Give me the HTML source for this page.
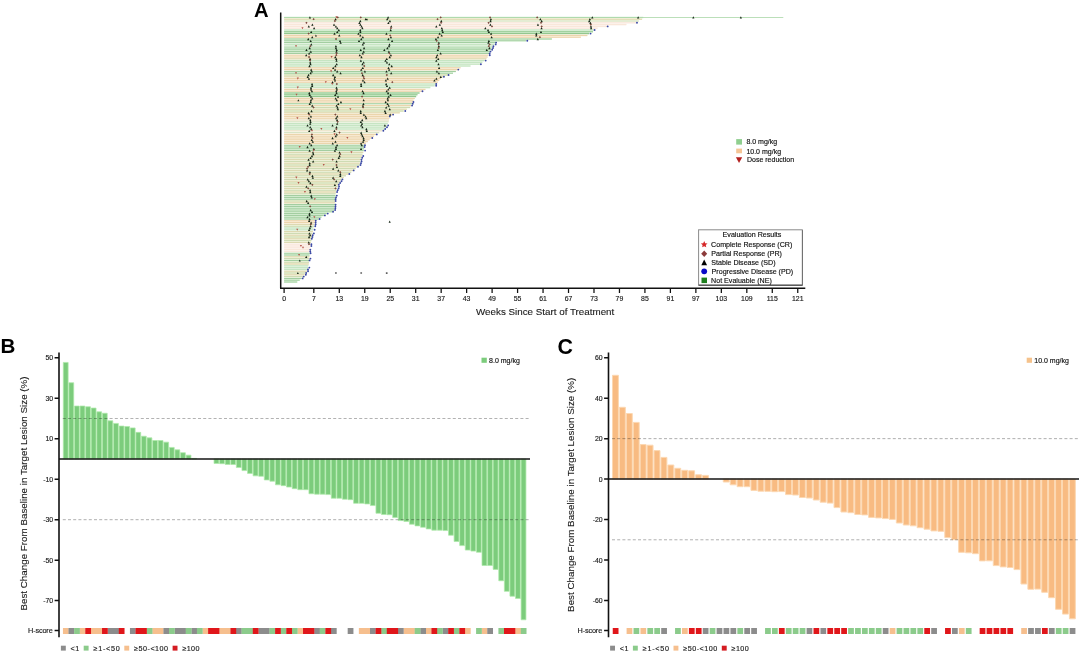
<!DOCTYPE html>
<html lang="en"><head><meta charset="utf-8"><title>Figure: treatment duration and best change in target lesion size</title>
<style>
html,body{margin:0;padding:0;background:#fff}
body{width:1080px;height:652px;overflow:hidden}
svg{display:block;font-family:"Liberation Sans",Arial,Helvetica,sans-serif}
</style></head><body>
<svg width="1080" height="652" viewBox="0 0 1080 652">
<rect width="1080" height="652" fill="#fff"/>
<g>
<path fill="#d0eacd" d="M284.1 16.8H643.3v1.5H284.1zM284.1 38.1H551.87v1.82H284.1zM284.1 39.9H526.15v1.82H284.1zM284.1 41.7H496.08v1.82H284.1zM284.1 47.1H491.7v1.82H284.1zM284.1 48.9H490.8v1.82H284.1zM284.1 50.7H489.91v1.82H284.1zM284.1 52.5H489.13v1.82H284.1zM284.1 70.5H455.84v1.82H284.1zM284.1 72.3H452.99v1.82H284.1zM284.1 102.9H412.08v1.82H284.1zM284.1 144.3H364.84v1.82H284.1zM284.1 146.1H364.48v1.82H284.1zM284.1 147.9H364.12v1.82H284.1zM284.1 149.7H363.76v1.82H284.1zM284.1 194.7H335.52v1.82H284.1zM284.1 196.5H335.45v1.82H284.1zM284.1 198.3H335.39v1.82H284.1zM284.1 203.7H334.91v1.82H284.1zM284.1 205.5H334.67v1.82H284.1zM284.1 207.3H334.43v1.82H284.1zM284.1 209.1H334.19v1.82H284.1zM284.1 210.9H332.68v1.82H284.1zM284.1 212.7H326.72v1.82H284.1zM284.1 214.5H323.86v1.82H284.1zM284.1 216.3H321.42v1.82H284.1zM284.1 218.1H318.68v1.82H284.1zM284.1 252.3H309.69v1.82H284.1zM284.1 254.1H309.56v1.82H284.1zM284.1 259.5H309.17v1.82H284.1zM284.1 277.5H301.48v1.82H284.1zM284.1 279.3H299.69v1.82H284.1zM284.1 281.1H297.25v1.82H284.1z"/>
<path fill="#eee8c8" d="M284.1 18.3H642.09v1.82H284.1zM284.1 57.9H486.43v1.82H284.1zM284.1 75.9H443.92v1.82H284.1zM284.1 108.3H406.88v1.82H284.1zM284.1 111.9H399.82v1.82H284.1zM284.1 151.5H363.22v1.82H284.1zM284.1 155.1H361.87v1.82H284.1zM284.1 158.7H360.69v1.82H284.1zM284.1 162.3H359.83v1.82H284.1zM284.1 165.9H357.48v1.82H284.1zM284.1 169.5H353.64v1.82H284.1zM284.1 173.1H348.62v1.82H284.1zM284.1 176.7H343.74v1.82H284.1zM284.1 180.3H340.2v1.82H284.1zM284.1 183.9H338.4v1.82H284.1zM284.1 187.5H337.02v1.82H284.1zM284.1 191.1H335.98v1.82H284.1zM284.1 201.9H335.15v1.82H284.1zM284.1 223.5H314.48v1.82H284.1zM284.1 230.7H312.88v1.82H284.1zM284.1 234.3H312.25v1.82H284.1zM284.1 237.9H311.64v1.82H284.1zM284.1 241.5H311.05v1.82H284.1zM284.1 255.9H309.43v1.82H284.1zM284.1 263.1H308.76v1.82H284.1zM284.1 270.3H306.88v1.82H284.1zM284.1 273.9H304.54v1.82H284.1z"/>
<path fill="#eaf1da" d="M284.1 20.1H638.87v1.82H284.1zM284.1 120.9H388.68v1.82H284.1zM284.1 131.7H379.21v1.82H284.1z"/>
<path fill="#fcf1ea" d="M284.1 21.9H636.27v1.82H284.1zM284.1 23.7H626.39v1.82H284.1zM284.1 25.5H607.5v1.82H284.1zM284.1 27.3H597.6v1.82H284.1zM284.1 243.3H310.76v1.82H284.1zM284.1 245.1H310.47v1.82H284.1zM284.1 246.9H310.18v1.82H284.1zM284.1 248.7H309.95v1.82H284.1zM284.1 250.5H309.82v1.82H284.1z"/>
<path fill="#ddf0da" d="M284.1 29.1H593.79v1.82H284.1zM284.1 43.5H494.23v1.82H284.1zM284.1 45.3H492.6v1.82H284.1zM284.1 59.7H484.37v1.82H284.1zM284.1 61.5H482.31v1.82H284.1zM284.1 63.3H480.26v1.82H284.1zM284.1 65.1H470.5v1.82H284.1zM284.1 83.1H436.17v1.82H284.1zM284.1 84.9H434.65v1.82H284.1zM284.1 86.7H430.33v1.82H284.1zM284.1 122.7H387.76v1.82H284.1zM284.1 124.5H386.68v1.82H284.1zM284.1 126.3H385.6v1.82H284.1zM284.1 128.1H384.52v1.82H284.1zM284.1 227.1H313.5v1.82H284.1zM284.1 228.9H313.19v1.82H284.1zM284.1 264.9H308.39v1.82H284.1zM284.1 266.7H308.03v1.82H284.1zM284.1 268.5H307.66v1.82H284.1z"/>
<path fill="#c2e4bf" d="M284.1 30.9H593.02v1.82H284.1zM284.1 32.7H589.1v1.82H284.1zM284.1 92.1H419.58v1.82H284.1zM284.1 93.9H417.5v1.82H284.1zM284.1 95.7H416.15v1.82H284.1z"/>
<path fill="#f7e8d0" d="M284.1 34.5H587.37v1.82H284.1zM284.1 36.3H580.87v1.82H284.1zM284.1 54.3H488.35v1.82H284.1zM284.1 56.1H487.57v1.82H284.1zM284.1 66.9H460.56v1.82H284.1zM284.1 68.7H458.2v1.82H284.1zM284.1 77.7H440.73v1.82H284.1zM284.1 79.5H439.21v1.82H284.1zM284.1 81.3H437.69v1.82H284.1zM284.1 88.5H425.44v1.82H284.1zM284.1 90.3H421.86v1.82H284.1zM284.1 97.5H414.8v1.82H284.1zM284.1 99.3H413.52v1.82H284.1zM284.1 101.1H412.8v1.82H284.1zM284.1 104.7H411.36v1.82H284.1zM284.1 113.7H392.75v1.82H284.1zM284.1 115.5H389.78v1.82H284.1zM284.1 117.3H389.41v1.82H284.1zM284.1 133.5H376.46v1.82H284.1zM284.1 135.3H374.07v1.82H284.1zM284.1 137.1H371.76v1.82H284.1zM284.1 138.9H369.68v1.82H284.1zM284.1 140.7H367.85v1.82H284.1zM284.1 142.5H366.02v1.82H284.1zM284.1 219.9H315.73v1.82H284.1zM284.1 221.7H314.97v1.82H284.1z"/>
<path fill="#e4ebcb" d="M284.1 74.1H448.46v1.82H284.1zM284.1 106.5H410.09v1.82H284.1zM284.1 110.1H403.67v1.82H284.1zM284.1 153.3H362.54v1.82H284.1zM284.1 156.9H361.19v1.82H284.1zM284.1 160.5H360.26v1.82H284.1zM284.1 164.1H359.4v1.82H284.1zM284.1 167.7H355.56v1.82H284.1zM284.1 171.3H351.25v1.82H284.1zM284.1 174.9H345.99v1.82H284.1zM284.1 178.5H341.54v1.82H284.1zM284.1 182.1H339.3v1.82H284.1zM284.1 185.7H337.54v1.82H284.1zM284.1 189.3H336.5v1.82H284.1zM284.1 192.9H335.58v1.82H284.1zM284.1 200.1H335.32v1.82H284.1zM284.1 225.3H313.99v1.82H284.1zM284.1 232.5H312.56v1.82H284.1zM284.1 236.1H311.94v1.82H284.1zM284.1 239.7H311.35v1.82H284.1zM284.1 257.7H309.3v1.82H284.1zM284.1 261.3H309.04v1.82H284.1zM284.1 272.1H305.8v1.82H284.1zM284.1 275.7H302.96v1.82H284.1z"/>
<path fill="#f5eedc" d="M284.1 119.1H389.05v1.82H284.1zM284.1 129.9H381.96v1.82H284.1z"/>
<path fill="#a5d5a2" d="M284.1 17H783.3v0.8H284.1z"/>
<path fill="#d8d4aa" d="M284.1 18.9H642.09v0.6H284.1zM284.1 58.5H486.43v0.6H284.1zM284.1 76.5H443.92v0.6H284.1zM284.1 108.9H406.88v0.6H284.1zM284.1 112.5H399.82v0.6H284.1zM284.1 152.1H363.22v0.6H284.1zM284.1 155.7H361.87v0.6H284.1zM284.1 159.3H360.69v0.6H284.1zM284.1 162.9H359.83v0.6H284.1zM284.1 166.5H357.48v0.6H284.1zM284.1 170.1H353.64v0.6H284.1zM284.1 173.7H348.62v0.6H284.1zM284.1 177.3H343.74v0.6H284.1zM284.1 180.9H340.2v0.6H284.1zM284.1 184.5H338.4v0.6H284.1zM284.1 188.1H337.02v0.6H284.1zM284.1 191.7H335.98v0.6H284.1zM284.1 202.5H335.15v0.6H284.1zM284.1 224.1H314.48v0.6H284.1zM284.1 231.3H312.88v0.6H284.1zM284.1 234.9H312.25v0.6H284.1zM284.1 238.5H311.64v0.6H284.1zM284.1 242.1H311.05v0.6H284.1zM284.1 256.5H309.43v0.6H284.1zM284.1 263.7H308.76v0.6H284.1zM284.1 270.9H306.88v0.6H284.1zM284.1 274.5H304.54v0.6H284.1z"/>
<path fill="#d2e0be" d="M284.1 20.7H638.87v0.6H284.1zM284.1 121.5H388.68v0.6H284.1zM284.1 132.3H379.21v0.6H284.1z"/>
<path fill="#f7e3d5" d="M284.1 22.5H636.27v0.6H284.1zM284.1 24.3H626.39v0.6H284.1zM284.1 26.1H607.5v0.6H284.1zM284.1 27.9H597.6v0.6H284.1zM284.1 243.9H310.76v0.6H284.1zM284.1 245.7H310.47v0.6H284.1zM284.1 247.5H310.18v0.6H284.1zM284.1 249.3H309.95v0.6H284.1zM284.1 251.1H309.82v0.6H284.1z"/>
<path fill="#bfe1bc" d="M284.1 29.7H593.79v0.6H284.1zM284.1 44.1H494.23v0.6H284.1zM284.1 45.9H492.6v0.6H284.1zM284.1 60.3H484.37v0.6H284.1zM284.1 62.1H482.31v0.6H284.1zM284.1 63.9H480.26v0.6H284.1zM284.1 65.7H470.5v0.6H284.1zM284.1 83.7H436.17v0.6H284.1zM284.1 85.5H434.65v0.6H284.1zM284.1 87.3H430.33v0.6H284.1zM284.1 123.3H387.76v0.6H284.1zM284.1 125.1H386.68v0.6H284.1zM284.1 126.9H385.6v0.6H284.1zM284.1 128.7H384.52v0.6H284.1zM284.1 227.7H313.5v0.6H284.1zM284.1 229.5H313.19v0.6H284.1zM284.1 265.5H308.39v0.6H284.1zM284.1 267.3H308.03v0.6H284.1zM284.1 269.1H307.66v0.6H284.1z"/>
<path fill="#82bd80" d="M284.1 31.5H593.02v0.6H284.1zM284.1 33.3H589.1v0.6H284.1zM284.1 92.7H419.58v0.6H284.1zM284.1 94.5H417.5v0.6H284.1zM284.1 96.3H416.15v0.6H284.1z"/>
<path fill="#e7cea0" d="M284.1 35.1H587.37v0.6H284.1zM284.1 36.9H580.87v0.6H284.1zM284.1 54.9H488.35v0.6H284.1zM284.1 56.7H487.57v0.6H284.1zM284.1 67.5H460.56v0.6H284.1zM284.1 69.3H458.2v0.6H284.1zM284.1 78.3H440.73v0.6H284.1zM284.1 80.1H439.21v0.6H284.1zM284.1 81.9H437.69v0.6H284.1zM284.1 89.1H425.44v0.6H284.1zM284.1 90.9H421.86v0.6H284.1zM284.1 98.1H414.8v0.6H284.1zM284.1 99.9H413.52v0.6H284.1zM284.1 101.7H412.8v0.6H284.1zM284.1 105.3H411.36v0.6H284.1zM284.1 114.3H392.75v0.6H284.1zM284.1 116.1H389.78v0.6H284.1zM284.1 117.9H389.41v0.6H284.1zM284.1 134.1H376.46v0.6H284.1zM284.1 135.9H374.07v0.6H284.1zM284.1 137.7H371.76v0.6H284.1zM284.1 139.5H369.68v0.6H284.1zM284.1 141.3H367.85v0.6H284.1zM284.1 143.1H366.02v0.6H284.1zM284.1 220.5H315.73v0.6H284.1zM284.1 222.3H314.97v0.6H284.1z"/>
<path fill="#94c592" d="M284.1 38.7H551.87v0.6H284.1zM284.1 40.5H526.15v0.6H284.1zM284.1 42.3H496.08v0.6H284.1zM284.1 47.7H491.7v0.6H284.1zM284.1 49.5H490.8v0.6H284.1zM284.1 51.3H489.91v0.6H284.1zM284.1 53.1H489.13v0.6H284.1zM284.1 71.1H455.84v0.6H284.1zM284.1 72.9H452.99v0.6H284.1zM284.1 103.5H412.08v0.6H284.1zM284.1 144.9H364.84v0.6H284.1zM284.1 146.7H364.48v0.6H284.1zM284.1 148.5H364.12v0.6H284.1zM284.1 150.3H363.76v0.6H284.1zM284.1 195.3H335.52v0.6H284.1zM284.1 197.1H335.45v0.6H284.1zM284.1 198.9H335.39v0.6H284.1zM284.1 204.3H334.91v0.6H284.1zM284.1 206.1H334.67v0.6H284.1zM284.1 207.9H334.43v0.6H284.1zM284.1 209.7H334.19v0.6H284.1zM284.1 211.5H332.68v0.6H284.1zM284.1 213.3H326.72v0.6H284.1zM284.1 215.1H323.86v0.6H284.1zM284.1 216.9H321.42v0.6H284.1zM284.1 218.7H318.68v0.6H284.1zM284.1 252.9H309.69v0.6H284.1zM284.1 254.7H309.56v0.6H284.1zM284.1 260.1H309.17v0.6H284.1zM284.1 278.1H301.48v0.6H284.1zM284.1 279.9H299.69v0.6H284.1zM284.1 281.7H297.25v0.6H284.1z"/>
<path fill="#c6d6ac" d="M284.1 74.7H448.46v0.6H284.1zM284.1 107.1H410.09v0.6H284.1zM284.1 110.7H403.67v0.6H284.1zM284.1 153.9H362.54v0.6H284.1zM284.1 157.5H361.19v0.6H284.1zM284.1 161.1H360.26v0.6H284.1zM284.1 164.7H359.4v0.6H284.1zM284.1 168.3H355.56v0.6H284.1zM284.1 171.9H351.25v0.6H284.1zM284.1 175.5H345.99v0.6H284.1zM284.1 179.1H341.54v0.6H284.1zM284.1 182.7H339.3v0.6H284.1zM284.1 186.3H337.54v0.6H284.1zM284.1 189.9H336.5v0.6H284.1zM284.1 193.5H335.58v0.6H284.1zM284.1 200.7H335.32v0.6H284.1zM284.1 225.9H313.99v0.6H284.1zM284.1 233.1H312.56v0.6H284.1zM284.1 236.7H311.94v0.6H284.1zM284.1 240.3H311.35v0.6H284.1zM284.1 258.3H309.3v0.6H284.1zM284.1 261.9H309.04v0.6H284.1zM284.1 272.7H305.8v0.6H284.1zM284.1 276.3H302.96v0.6H284.1z"/>
<path fill="#e8e0c2" d="M284.1 119.7H389.05v0.6H284.1zM284.1 130.5H381.96v0.6H284.1z"/>
</g>
<path fill="#5f5f5f" d="M335.05 272.15h1.7v1.7h-1.7zM360.35 272.15h1.7v1.7h-1.7zM385.85 272.25h1.7v1.7h-1.7z"/>
<path fill="#162616" d="M309.91 16.25l1.15 2.3h-2.3zM388.1 16.25l1.15 2.3h-2.3zM592.3 16.25l1.15 2.3h-2.3zM638.15 16.25l1.15 2.3h-2.3zM693.32 16.3l1.1 2.2h-2.2zM740.86 16.3l1.1 2.2h-2.2zM335.62 18.05l1.15 2.3h-2.3zM365.7 18.05l1.15 2.3h-2.3zM387.2 18.05l1.15 2.3h-2.3zM490.92 18.05l1.15 2.3h-2.3zM540.33 18.05l1.15 2.3h-2.3zM589.89 18.05l1.15 2.3h-2.3zM366.96 18.2l1 2h-2zM360.32 19.85l1.15 2.3h-2.3zM389.92 19.85l1.15 2.3h-2.3zM441.29 19.85l1.15 2.3h-2.3zM490.56 19.85l1.15 2.3h-2.3zM541.69 19.85l1.15 2.3h-2.3zM589.23 19.85l1.15 2.3h-2.3zM359.42 21.65l1.15 2.3h-2.3zM388.38 21.65l1.15 2.3h-2.3zM590.44 21.65l1.15 2.3h-2.3zM312.37 23.45l1.15 2.3h-2.3zM334.02 23.45l1.15 2.3h-2.3zM360.36 23.45l1.15 2.3h-2.3zM439.84 23.45l1.15 2.3h-2.3zM490.37 23.45l1.15 2.3h-2.3zM537.95 23.45l1.15 2.3h-2.3zM308.81 25.25l1.15 2.3h-2.3zM335.9 25.25l1.15 2.3h-2.3zM361.58 25.25l1.15 2.3h-2.3zM391.23 25.25l1.15 2.3h-2.3zM436.33 25.25l1.15 2.3h-2.3zM590.94 25.25l1.15 2.3h-2.3zM314.12 27.05l1.15 2.3h-2.3zM337.22 27.05l1.15 2.3h-2.3zM362.4 27.05l1.15 2.3h-2.3zM441.83 27.05l1.15 2.3h-2.3zM485.36 27.05l1.15 2.3h-2.3zM541.54 27.05l1.15 2.3h-2.3zM591.14 27.05l1.15 2.3h-2.3zM338.85 28.85l1.15 2.3h-2.3zM360.25 28.85l1.15 2.3h-2.3zM390.72 28.85l1.15 2.3h-2.3zM442.24 28.85l1.15 2.3h-2.3zM488.04 28.85l1.15 2.3h-2.3zM311.18 30.65l1.15 2.3h-2.3zM337.25 30.65l1.15 2.3h-2.3zM360.39 30.65l1.15 2.3h-2.3zM442.82 30.65l1.15 2.3h-2.3zM488.88 30.65l1.15 2.3h-2.3zM540.98 30.65l1.15 2.3h-2.3zM334.5 32.45l1.15 2.3h-2.3zM358.47 32.45l1.15 2.3h-2.3zM386.44 32.45l1.15 2.3h-2.3zM439.63 32.45l1.15 2.3h-2.3zM491.1 32.45l1.15 2.3h-2.3zM536.3 32.45l1.15 2.3h-2.3zM339.27 34.25l1.15 2.3h-2.3zM360.31 34.25l1.15 2.3h-2.3zM441.67 34.25l1.15 2.3h-2.3zM536.3 34.25l1.15 2.3h-2.3zM315.93 34.4l1 2h-2zM312.23 36.05l1.15 2.3h-2.3zM362.86 36.05l1.15 2.3h-2.3zM390.9 36.05l1.15 2.3h-2.3zM438.06 36.05l1.15 2.3h-2.3zM491.65 36.05l1.15 2.3h-2.3zM308.25 37.85l1.15 2.3h-2.3zM361.27 37.85l1.15 2.3h-2.3zM388.44 37.85l1.15 2.3h-2.3zM435.94 37.85l1.15 2.3h-2.3zM537.8 37.85l1.15 2.3h-2.3zM310.71 39.65l1.15 2.3h-2.3zM340.01 39.65l1.15 2.3h-2.3zM359.02 39.65l1.15 2.3h-2.3zM392.1 39.65l1.15 2.3h-2.3zM488.89 39.65l1.15 2.3h-2.3zM340.63 41.45l1.15 2.3h-2.3zM363.84 41.45l1.15 2.3h-2.3zM438.83 41.45l1.15 2.3h-2.3zM488.39 41.45l1.15 2.3h-2.3zM311.26 43.25l1.15 2.3h-2.3zM362.82 43.25l1.15 2.3h-2.3zM389.48 43.25l1.15 2.3h-2.3zM335.92 45.05l1.15 2.3h-2.3zM389.07 45.05l1.15 2.3h-2.3zM438.86 45.05l1.15 2.3h-2.3zM309.7 46.85l1.15 2.3h-2.3zM335.93 46.85l1.15 2.3h-2.3zM364.08 46.85l1.15 2.3h-2.3zM387.38 46.85l1.15 2.3h-2.3zM489.4 46.85l1.15 2.3h-2.3zM306.48 48.65l1.15 2.3h-2.3zM336.7 48.65l1.15 2.3h-2.3zM360.75 48.65l1.15 2.3h-2.3zM384.33 48.65l1.15 2.3h-2.3zM437.86 48.65l1.15 2.3h-2.3zM486.79 48.65l1.15 2.3h-2.3zM310.83 50.45l1.15 2.3h-2.3zM336.43 50.45l1.15 2.3h-2.3zM363.72 50.45l1.15 2.3h-2.3zM388.88 50.45l1.15 2.3h-2.3zM309.16 52.25l1.15 2.3h-2.3zM362.77 52.25l1.15 2.3h-2.3zM440.64 52.25l1.15 2.3h-2.3zM306.22 54.05l1.15 2.3h-2.3zM359.83 54.05l1.15 2.3h-2.3zM390.9 54.05l1.15 2.3h-2.3zM437.26 54.05l1.15 2.3h-2.3zM335.29 55.85l1.15 2.3h-2.3zM361.47 55.85l1.15 2.3h-2.3zM389.72 55.85l1.15 2.3h-2.3zM436.4 55.85l1.15 2.3h-2.3zM310.1 57.65l1.15 2.3h-2.3zM336.27 57.65l1.15 2.3h-2.3zM386.8 57.65l1.15 2.3h-2.3zM438.25 57.65l1.15 2.3h-2.3zM336.51 59.45l1.15 2.3h-2.3zM360.87 59.45l1.15 2.3h-2.3zM385.47 59.45l1.15 2.3h-2.3zM436.32 59.45l1.15 2.3h-2.3zM310.2 61.25l1.15 2.3h-2.3zM363.64 61.25l1.15 2.3h-2.3zM386.95 61.25l1.15 2.3h-2.3zM310.54 63.05l1.15 2.3h-2.3zM336.72 63.05l1.15 2.3h-2.3zM362.48 63.05l1.15 2.3h-2.3zM389.26 63.05l1.15 2.3h-2.3zM438.48 63.05l1.15 2.3h-2.3zM309.48 64.85l1.15 2.3h-2.3zM335.38 64.85l1.15 2.3h-2.3zM391.72 64.85l1.15 2.3h-2.3zM333.22 66.65l1.15 2.3h-2.3zM362.83 66.65l1.15 2.3h-2.3zM388.54 66.65l1.15 2.3h-2.3zM439.11 66.65l1.15 2.3h-2.3zM311.18 68.45l1.15 2.3h-2.3zM335.09 68.45l1.15 2.3h-2.3zM361.27 68.45l1.15 2.3h-2.3zM389.12 68.45l1.15 2.3h-2.3zM311.81 70.25l1.15 2.3h-2.3zM337.21 70.25l1.15 2.3h-2.3zM364.89 70.25l1.15 2.3h-2.3zM386.48 70.25l1.15 2.3h-2.3zM436.92 70.25l1.15 2.3h-2.3zM310.64 72.05l1.15 2.3h-2.3zM340.56 72.05l1.15 2.3h-2.3zM391.2 72.05l1.15 2.3h-2.3zM438.91 72.05l1.15 2.3h-2.3zM308.49 73.85l1.15 2.3h-2.3zM333.16 73.85l1.15 2.3h-2.3zM362.71 73.85l1.15 2.3h-2.3zM307.69 75.65l1.15 2.3h-2.3zM334.94 75.65l1.15 2.3h-2.3zM440.8 75.65l1.15 2.3h-2.3zM308.92 77.45l1.15 2.3h-2.3zM334.52 77.45l1.15 2.3h-2.3zM387.67 77.45l1.15 2.3h-2.3zM436.39 77.45l1.15 2.3h-2.3zM335.01 79.25l1.15 2.3h-2.3zM362.96 79.25l1.15 2.3h-2.3zM385.88 79.25l1.15 2.3h-2.3zM434.42 79.25l1.15 2.3h-2.3zM332.54 81.05l1.15 2.3h-2.3zM364.55 81.05l1.15 2.3h-2.3zM312.07 82.85l1.15 2.3h-2.3zM361.1 82.85l1.15 2.3h-2.3zM386.15 82.85l1.15 2.3h-2.3zM312.21 84.65l1.15 2.3h-2.3zM361.17 84.65l1.15 2.3h-2.3zM387.01 84.65l1.15 2.3h-2.3zM311 86.45l1.15 2.3h-2.3zM336.51 86.45l1.15 2.3h-2.3zM389.7 86.45l1.15 2.3h-2.3zM311.02 88.25l1.15 2.3h-2.3zM336.9 88.25l1.15 2.3h-2.3zM388.25 88.25l1.15 2.3h-2.3zM311.93 90.05l1.15 2.3h-2.3zM336.25 90.05l1.15 2.3h-2.3zM362.6 90.05l1.15 2.3h-2.3zM386.71 90.05l1.15 2.3h-2.3zM309.27 91.85l1.15 2.3h-2.3zM336.57 91.85l1.15 2.3h-2.3zM363.55 91.85l1.15 2.3h-2.3zM388.11 91.85l1.15 2.3h-2.3zM309.74 93.65l1.15 2.3h-2.3zM335.23 93.65l1.15 2.3h-2.3zM390.56 93.65l1.15 2.3h-2.3zM310.97 95.45l1.15 2.3h-2.3zM338.03 95.45l1.15 2.3h-2.3zM388.72 95.45l1.15 2.3h-2.3zM312.21 97.25l1.15 2.3h-2.3zM335.7 97.25l1.15 2.3h-2.3zM387.7 97.25l1.15 2.3h-2.3zM310.96 99.05l1.15 2.3h-2.3zM336.83 99.05l1.15 2.3h-2.3zM363.66 99.05l1.15 2.3h-2.3zM387.9 99.05l1.15 2.3h-2.3zM298.36 99.2l1 2h-2zM310.74 100.85l1.15 2.3h-2.3zM340.94 100.85l1.15 2.3h-2.3zM385.69 100.85l1.15 2.3h-2.3zM309.72 102.65l1.15 2.3h-2.3zM338.26 102.65l1.15 2.3h-2.3zM363.44 102.65l1.15 2.3h-2.3zM387.61 102.65l1.15 2.3h-2.3zM312.24 104.45l1.15 2.3h-2.3zM336.64 104.45l1.15 2.3h-2.3zM362.96 104.45l1.15 2.3h-2.3zM388.66 104.45l1.15 2.3h-2.3zM337.44 106.25l1.15 2.3h-2.3zM386.2 106.25l1.15 2.3h-2.3zM337.92 108.05l1.15 2.3h-2.3zM389.76 108.05l1.15 2.3h-2.3zM311.54 109.85l1.15 2.3h-2.3zM360.71 109.85l1.15 2.3h-2.3zM384.93 109.85l1.15 2.3h-2.3zM308.65 111.65l1.15 2.3h-2.3zM360.75 111.65l1.15 2.3h-2.3zM385.64 111.65l1.15 2.3h-2.3zM363.89 113.45l1.15 2.3h-2.3zM390.18 113.45l1.15 2.3h-2.3zM310.92 115.25l1.15 2.3h-2.3zM337.26 115.25l1.15 2.3h-2.3zM365.57 115.25l1.15 2.3h-2.3zM308.8 117.05l1.15 2.3h-2.3zM336.13 117.05l1.15 2.3h-2.3zM366.22 117.05l1.15 2.3h-2.3zM310.29 118.85l1.15 2.3h-2.3zM337.1 118.85l1.15 2.3h-2.3zM362.21 118.85l1.15 2.3h-2.3zM310.54 120.65l1.15 2.3h-2.3zM360.84 120.65l1.15 2.3h-2.3zM310.21 122.45l1.15 2.3h-2.3zM337.19 122.45l1.15 2.3h-2.3zM362.04 122.45l1.15 2.3h-2.3zM307.55 124.25l1.15 2.3h-2.3zM332.54 124.25l1.15 2.3h-2.3zM361.24 124.25l1.15 2.3h-2.3zM384.9 124.25l1.15 2.3h-2.3zM310.21 126.05l1.15 2.3h-2.3zM336.47 126.05l1.15 2.3h-2.3zM362.46 126.05l1.15 2.3h-2.3zM311.27 127.85l1.15 2.3h-2.3zM366.39 127.85l1.15 2.3h-2.3zM309.24 129.65l1.15 2.3h-2.3zM334.44 129.65l1.15 2.3h-2.3zM366.83 129.65l1.15 2.3h-2.3zM361.15 131.45l1.15 2.3h-2.3zM336.76 133.25l1.15 2.3h-2.3zM361.71 133.25l1.15 2.3h-2.3zM311.81 135.05l1.15 2.3h-2.3zM335.77 135.05l1.15 2.3h-2.3zM362.54 135.05l1.15 2.3h-2.3zM332.54 136.85l1.15 2.3h-2.3zM363.6 136.85l1.15 2.3h-2.3zM311.75 138.65l1.15 2.3h-2.3zM363.73 138.65l1.15 2.3h-2.3zM312.78 140.45l1.15 2.3h-2.3zM335.45 140.45l1.15 2.3h-2.3zM363.11 140.45l1.15 2.3h-2.3zM309.68 142.25l1.15 2.3h-2.3zM332.76 142.25l1.15 2.3h-2.3zM361.07 142.25l1.15 2.3h-2.3zM311.29 144.05l1.15 2.3h-2.3zM337.09 144.05l1.15 2.3h-2.3zM361.78 144.05l1.15 2.3h-2.3zM307.52 145.85l1.15 2.3h-2.3zM336 145.85l1.15 2.3h-2.3zM313.85 147.65l1.15 2.3h-2.3zM335.99 147.65l1.15 2.3h-2.3zM361.06 147.65l1.15 2.3h-2.3zM309.61 149.45l1.15 2.3h-2.3zM334.91 149.45l1.15 2.3h-2.3zM312.94 151.25l1.15 2.3h-2.3zM339.57 151.25l1.15 2.3h-2.3zM313.32 153.05l1.15 2.3h-2.3zM311.95 154.85l1.15 2.3h-2.3zM339.56 154.85l1.15 2.3h-2.3zM310.59 156.65l1.15 2.3h-2.3zM338.76 156.65l1.15 2.3h-2.3zM308.56 158.45l1.15 2.3h-2.3zM313.16 160.25l1.15 2.3h-2.3zM336.6 160.25l1.15 2.3h-2.3zM309.72 162.05l1.15 2.3h-2.3zM309.67 163.85l1.15 2.3h-2.3zM336.92 165.65l1.15 2.3h-2.3zM333.15 167.45l1.15 2.3h-2.3zM307.16 169.25l1.15 2.3h-2.3zM338.33 169.25l1.15 2.3h-2.3zM309.93 171.05l1.15 2.3h-2.3zM340.34 172.85l1.15 2.3h-2.3zM312.46 174.65l1.15 2.3h-2.3zM340.28 174.65l1.15 2.3h-2.3zM312.84 176.45l1.15 2.3h-2.3zM333.11 176.45l1.15 2.3h-2.3zM307.75 178.25l1.15 2.3h-2.3zM308.93 180.05l1.15 2.3h-2.3zM336.22 180.05l1.15 2.3h-2.3zM310.4 181.85l1.15 2.3h-2.3zM334.88 183.65l1.15 2.3h-2.3zM306.48 185.45l1.15 2.3h-2.3zM310.08 189.05l1.15 2.3h-2.3zM310.29 190.85l1.15 2.3h-2.3zM311.21 194.45l1.15 2.3h-2.3zM311.72 196.25l1.15 2.3h-2.3zM306.72 199.85l1.15 2.3h-2.3zM308.2 201.65l1.15 2.3h-2.3zM310.68 208.85l1.15 2.3h-2.3zM312.04 210.65l1.15 2.3h-2.3zM309.49 212.45l1.15 2.3h-2.3zM309.49 214.25l1.15 2.3h-2.3zM307.47 216.05l1.15 2.3h-2.3zM309.57 217.85l1.15 2.3h-2.3zM309.15 219.65l1.15 2.3h-2.3zM311.12 221.45l1.15 2.3h-2.3zM310.64 225.05l1.15 2.3h-2.3zM309.86 226.85l1.15 2.3h-2.3zM309.11 228.65l1.15 2.3h-2.3zM309.4 232.25l1.15 2.3h-2.3zM310.17 234.05l1.15 2.3h-2.3zM309.08 235.85l1.15 2.3h-2.3zM308.78 241.25l1.15 2.3h-2.3zM306.22 255.65l1.15 2.3h-2.3zM299.77 259.4l1 2h-2zM297.86 272l1 2h-2zM389.7 220.55l1.05 2.1h-2.1z"/>
<path fill="#7d4a3e" d="M337.76 16.25l1.15 1.15l-1.15 1.15l-1.15 -1.15zM360.77 16.25l1.15 1.15l-1.15 1.15l-1.15 -1.15zM440.69 16.25l1.15 1.15l-1.15 1.15l-1.15 -1.15zM490.06 16.25l1.15 1.15l-1.15 1.15l-1.15 -1.15zM537.17 16.25l1.15 1.15l-1.15 1.15l-1.15 -1.15zM313.62 18.05l1.15 1.15l-1.15 1.15l-1.15 -1.15zM437.55 18.05l1.15 1.15l-1.15 1.15l-1.15 -1.15zM334.88 19.85l1.15 1.15l-1.15 1.15l-1.15 -1.15zM306.44 21.65l1.15 1.15l-1.15 1.15l-1.15 -1.15zM441.08 21.65l1.15 1.15l-1.15 1.15l-1.15 -1.15zM488.58 21.65l1.15 1.15l-1.15 1.15l-1.15 -1.15zM541.03 21.65l1.15 1.15l-1.15 1.15l-1.15 -1.15zM590.81 23.45l1.15 1.15l-1.15 1.15l-1.15 -1.15zM491.98 25.25l1.15 1.15l-1.15 1.15l-1.15 -1.15zM541.71 25.25l1.15 1.15l-1.15 1.15l-1.15 -1.15zM390.92 27.05l1.15 1.15l-1.15 1.15l-1.15 -1.15zM308.64 32.45l1.15 1.15l-1.15 1.15l-1.15 -1.15zM390.15 34.25l1.15 1.15l-1.15 1.15l-1.15 -1.15zM539.91 36.05l1.15 1.15l-1.15 1.15l-1.15 -1.15zM336.04 37.85l1.15 1.15l-1.15 1.15l-1.15 -1.15zM436.75 39.65l1.15 1.15l-1.15 1.15l-1.15 -1.15zM438.49 43.25l1.15 1.15l-1.15 1.15l-1.15 -1.15zM489.61 43.25l1.15 1.15l-1.15 1.15l-1.15 -1.15zM310.32 45.05l1.15 1.15l-1.15 1.15l-1.15 -1.15zM488.78 45.05l1.15 1.15l-1.15 1.15l-1.15 -1.15zM438.67 46.85l1.15 1.15l-1.15 1.15l-1.15 -1.15zM336.65 52.25l1.15 1.15l-1.15 1.15l-1.15 -1.15zM389.46 52.25l1.15 1.15l-1.15 1.15l-1.15 -1.15zM336.26 54.05l1.15 1.15l-1.15 1.15l-1.15 -1.15zM309.07 55.85l1.15 1.15l-1.15 1.15l-1.15 -1.15zM310.07 59.45l1.15 1.15l-1.15 1.15l-1.15 -1.15zM364.23 64.85l1.15 1.15l-1.15 1.15l-1.15 -1.15zM361.97 72.05l1.15 1.15l-1.15 1.15l-1.15 -1.15zM386.86 73.85l1.15 1.15l-1.15 1.15l-1.15 -1.15zM363.57 75.65l1.15 1.15l-1.15 1.15l-1.15 -1.15zM364.1 77.45l1.15 1.15l-1.15 1.15l-1.15 -1.15zM392.31 81.05l1.15 1.15l-1.15 1.15l-1.15 -1.15zM336.83 82.85l1.15 1.15l-1.15 1.15l-1.15 -1.15zM362.08 95.45l1.15 1.15l-1.15 1.15l-1.15 -1.15zM313.54 106.25l1.15 1.15l-1.15 1.15l-1.15 -1.15zM363.11 106.25l1.15 1.15l-1.15 1.15l-1.15 -1.15zM309.17 113.45l1.15 1.15l-1.15 1.15l-1.15 -1.15zM335.37 113.45l1.15 1.15l-1.15 1.15l-1.15 -1.15zM337.74 120.65l1.15 1.15l-1.15 1.15l-1.15 -1.15zM336.36 127.85l1.15 1.15l-1.15 1.15l-1.15 -1.15zM339.52 131.45l1.15 1.15l-1.15 1.15l-1.15 -1.15zM311.93 133.25l1.15 1.15l-1.15 1.15l-1.15 -1.15zM312.58 136.85l1.15 1.15l-1.15 1.15l-1.15 -1.15zM340.22 153.05l1.15 1.15l-1.15 1.15l-1.15 -1.15zM332.7 158.45l1.15 1.15l-1.15 1.15l-1.15 -1.15zM336.49 163.85l1.15 1.15l-1.15 1.15l-1.15 -1.15zM308.06 165.65l1.15 1.15l-1.15 1.15l-1.15 -1.15zM307.02 167.45l1.15 1.15l-1.15 1.15l-1.15 -1.15zM340.3 171.05l1.15 1.15l-1.15 1.15l-1.15 -1.15zM309.69 172.85l1.15 1.15l-1.15 1.15l-1.15 -1.15zM334.11 178.25l1.15 1.15l-1.15 1.15l-1.15 -1.15zM312.37 183.65l1.15 1.15l-1.15 1.15l-1.15 -1.15zM308.21 187.25l1.15 1.15l-1.15 1.15l-1.15 -1.15zM335.46 187.25l1.15 1.15l-1.15 1.15l-1.15 -1.15zM310.15 205.25l1.15 1.15l-1.15 1.15l-1.15 -1.15zM310.82 223.25l1.15 1.15l-1.15 1.15l-1.15 -1.15zM308.99 243.05l1.15 1.15l-1.15 1.15l-1.15 -1.15z"/>
<path fill="#b5554a" d="M336.45 18.45l-1.05 -2.1h2.1zM302.46 29.25l-1.05 -2.1h2.1zM296.04 47.25l-1.05 -2.1h2.1zM331.61 58.05l-1.05 -2.1h2.1zM331.13 72.45l-1.05 -2.1h2.1zM296.02 74.25l-1.05 -2.1h2.1zM297.82 79.65l-1.05 -2.1h2.1zM325.81 83.25l-1.05 -2.1h2.1zM332.23 85.05l-1.05 -2.1h2.1zM297.8 88.65l-1.05 -2.1h2.1zM296.53 95.85l-1.05 -2.1h2.1zM350.35 110.25l-1.05 -2.1h2.1zM297.37 119.25l-1.05 -2.1h2.1zM321.34 130.05l-1.05 -2.1h2.1zM312.01 131.85l-1.05 -2.1h2.1zM334.61 135.45l-1.05 -2.1h2.1zM347.37 139.05l-1.05 -2.1h2.1zM299.74 148.05l-1.05 -2.1h2.1zM313.77 151.65l-1.05 -2.1h2.1zM351.4 153.45l-1.05 -2.1h2.1zM323.72 166.05l-1.05 -2.1h2.1zM296.34 178.65l-1.05 -2.1h2.1zM298.52 184.05l-1.05 -2.1h2.1zM304.94 193.05l-1.05 -2.1h2.1zM314.79 200.25l-1.05 -2.1h2.1zM314.35 218.25l-1.05 -2.1h2.1zM297.24 230.85l-1.05 -2.1h2.1zM300.94 247.05l-1.05 -2.1h2.1zM303.01 248.85l-1.05 -2.1h2.1zM299.08 256.05l-1.05 -2.1h2.1z"/>
<path fill="#3a48a4" d="M636.04 22.8a0.95 0.95 0 1 0 1.9 0a0.95 0.95 0 1 0 -1.9 0zM606.71 26.4a0.95 0.95 0 1 0 1.9 0a0.95 0.95 0 1 0 -1.9 0zM593.66 30a0.95 0.95 0 1 0 1.9 0a0.95 0.95 0 1 0 -1.9 0zM589.6 33.6a0.95 0.95 0 1 0 1.9 0a0.95 0.95 0 1 0 -1.9 0zM526.35 40.8a0.95 0.95 0 1 0 1.9 0a0.95 0.95 0 1 0 -1.9 0zM495.16 42.6a0.95 0.95 0 1 0 1.9 0a0.95 0.95 0 1 0 -1.9 0zM494.75 44.4a0.95 0.95 0 1 0 1.9 0a0.95 0.95 0 1 0 -1.9 0zM492.49 46.2a0.95 0.95 0 1 0 1.9 0a0.95 0.95 0 1 0 -1.9 0zM492.06 48a0.95 0.95 0 1 0 1.9 0a0.95 0.95 0 1 0 -1.9 0zM491.2 49.8a0.95 0.95 0 1 0 1.9 0a0.95 0.95 0 1 0 -1.9 0zM489.57 51.6a0.95 0.95 0 1 0 1.9 0a0.95 0.95 0 1 0 -1.9 0zM488.7 53.4a0.95 0.95 0 1 0 1.9 0a0.95 0.95 0 1 0 -1.9 0zM488.83 55.2a0.95 0.95 0 1 0 1.9 0a0.95 0.95 0 1 0 -1.9 0zM484.73 60.6a0.95 0.95 0 1 0 1.9 0a0.95 0.95 0 1 0 -1.9 0zM479.94 64.2a0.95 0.95 0 1 0 1.9 0a0.95 0.95 0 1 0 -1.9 0zM457.39 69.6a0.95 0.95 0 1 0 1.9 0a0.95 0.95 0 1 0 -1.9 0zM447.62 75a0.95 0.95 0 1 0 1.9 0a0.95 0.95 0 1 0 -1.9 0zM443 76.8a0.95 0.95 0 1 0 1.9 0a0.95 0.95 0 1 0 -1.9 0zM435.28 84a0.95 0.95 0 1 0 1.9 0a0.95 0.95 0 1 0 -1.9 0zM435.23 85.8a0.95 0.95 0 1 0 1.9 0a0.95 0.95 0 1 0 -1.9 0zM421.54 91.2a0.95 0.95 0 1 0 1.9 0a0.95 0.95 0 1 0 -1.9 0zM412.49 102a0.95 0.95 0 1 0 1.9 0a0.95 0.95 0 1 0 -1.9 0zM411.81 103.8a0.95 0.95 0 1 0 1.9 0a0.95 0.95 0 1 0 -1.9 0zM411.12 105.6a0.95 0.95 0 1 0 1.9 0a0.95 0.95 0 1 0 -1.9 0zM404.31 111a0.95 0.95 0 1 0 1.9 0a0.95 0.95 0 1 0 -1.9 0zM392.16 114.6a0.95 0.95 0 1 0 1.9 0a0.95 0.95 0 1 0 -1.9 0zM388.85 116.4a0.95 0.95 0 1 0 1.9 0a0.95 0.95 0 1 0 -1.9 0zM387.22 125.4a0.95 0.95 0 1 0 1.9 0a0.95 0.95 0 1 0 -1.9 0zM386.04 127.2a0.95 0.95 0 1 0 1.9 0a0.95 0.95 0 1 0 -1.9 0zM384.25 129a0.95 0.95 0 1 0 1.9 0a0.95 0.95 0 1 0 -1.9 0zM382.39 130.8a0.95 0.95 0 1 0 1.9 0a0.95 0.95 0 1 0 -1.9 0zM375.84 134.4a0.95 0.95 0 1 0 1.9 0a0.95 0.95 0 1 0 -1.9 0zM371.33 138a0.95 0.95 0 1 0 1.9 0a0.95 0.95 0 1 0 -1.9 0zM364.05 145.2a0.95 0.95 0 1 0 1.9 0a0.95 0.95 0 1 0 -1.9 0zM363.62 147a0.95 0.95 0 1 0 1.9 0a0.95 0.95 0 1 0 -1.9 0zM364.17 150.6a0.95 0.95 0 1 0 1.9 0a0.95 0.95 0 1 0 -1.9 0zM362.33 156a0.95 0.95 0 1 0 1.9 0a0.95 0.95 0 1 0 -1.9 0zM361.3 157.8a0.95 0.95 0 1 0 1.9 0a0.95 0.95 0 1 0 -1.9 0zM360.52 159.6a0.95 0.95 0 1 0 1.9 0a0.95 0.95 0 1 0 -1.9 0zM360.63 161.4a0.95 0.95 0 1 0 1.9 0a0.95 0.95 0 1 0 -1.9 0zM360.04 163.2a0.95 0.95 0 1 0 1.9 0a0.95 0.95 0 1 0 -1.9 0zM359.54 165a0.95 0.95 0 1 0 1.9 0a0.95 0.95 0 1 0 -1.9 0zM357.04 166.8a0.95 0.95 0 1 0 1.9 0a0.95 0.95 0 1 0 -1.9 0zM352.72 170.4a0.95 0.95 0 1 0 1.9 0a0.95 0.95 0 1 0 -1.9 0zM348.37 174a0.95 0.95 0 1 0 1.9 0a0.95 0.95 0 1 0 -1.9 0zM341.47 179.4a0.95 0.95 0 1 0 1.9 0a0.95 0.95 0 1 0 -1.9 0zM340.54 181.2a0.95 0.95 0 1 0 1.9 0a0.95 0.95 0 1 0 -1.9 0zM339.18 183a0.95 0.95 0 1 0 1.9 0a0.95 0.95 0 1 0 -1.9 0zM337.87 184.8a0.95 0.95 0 1 0 1.9 0a0.95 0.95 0 1 0 -1.9 0zM338.11 186.6a0.95 0.95 0 1 0 1.9 0a0.95 0.95 0 1 0 -1.9 0zM337.62 188.4a0.95 0.95 0 1 0 1.9 0a0.95 0.95 0 1 0 -1.9 0zM336.76 190.2a0.95 0.95 0 1 0 1.9 0a0.95 0.95 0 1 0 -1.9 0zM336.11 192a0.95 0.95 0 1 0 1.9 0a0.95 0.95 0 1 0 -1.9 0zM335.91 195.6a0.95 0.95 0 1 0 1.9 0a0.95 0.95 0 1 0 -1.9 0zM335.09 197.4a0.95 0.95 0 1 0 1.9 0a0.95 0.95 0 1 0 -1.9 0zM334.66 199.2a0.95 0.95 0 1 0 1.9 0a0.95 0.95 0 1 0 -1.9 0zM334.7 201a0.95 0.95 0 1 0 1.9 0a0.95 0.95 0 1 0 -1.9 0zM334.67 204.6a0.95 0.95 0 1 0 1.9 0a0.95 0.95 0 1 0 -1.9 0zM334.54 206.4a0.95 0.95 0 1 0 1.9 0a0.95 0.95 0 1 0 -1.9 0zM334.4 208.2a0.95 0.95 0 1 0 1.9 0a0.95 0.95 0 1 0 -1.9 0zM334.18 210a0.95 0.95 0 1 0 1.9 0a0.95 0.95 0 1 0 -1.9 0zM332.11 211.8a0.95 0.95 0 1 0 1.9 0a0.95 0.95 0 1 0 -1.9 0zM326.79 213.6a0.95 0.95 0 1 0 1.9 0a0.95 0.95 0 1 0 -1.9 0zM323.94 215.4a0.95 0.95 0 1 0 1.9 0a0.95 0.95 0 1 0 -1.9 0zM318.64 219a0.95 0.95 0 1 0 1.9 0a0.95 0.95 0 1 0 -1.9 0zM314.8 220.8a0.95 0.95 0 1 0 1.9 0a0.95 0.95 0 1 0 -1.9 0zM314.72 222.6a0.95 0.95 0 1 0 1.9 0a0.95 0.95 0 1 0 -1.9 0zM314.71 224.4a0.95 0.95 0 1 0 1.9 0a0.95 0.95 0 1 0 -1.9 0zM314.29 226.2a0.95 0.95 0 1 0 1.9 0a0.95 0.95 0 1 0 -1.9 0zM313.69 229.8a0.95 0.95 0 1 0 1.9 0a0.95 0.95 0 1 0 -1.9 0zM312.92 233.4a0.95 0.95 0 1 0 1.9 0a0.95 0.95 0 1 0 -1.9 0zM311.76 235.2a0.95 0.95 0 1 0 1.9 0a0.95 0.95 0 1 0 -1.9 0zM311.48 237a0.95 0.95 0 1 0 1.9 0a0.95 0.95 0 1 0 -1.9 0zM310.88 238.8a0.95 0.95 0 1 0 1.9 0a0.95 0.95 0 1 0 -1.9 0zM310.44 244.2a0.95 0.95 0 1 0 1.9 0a0.95 0.95 0 1 0 -1.9 0zM310.42 246a0.95 0.95 0 1 0 1.9 0a0.95 0.95 0 1 0 -1.9 0zM309.36 249.6a0.95 0.95 0 1 0 1.9 0a0.95 0.95 0 1 0 -1.9 0zM309.3 251.4a0.95 0.95 0 1 0 1.9 0a0.95 0.95 0 1 0 -1.9 0zM309.64 253.2a0.95 0.95 0 1 0 1.9 0a0.95 0.95 0 1 0 -1.9 0zM309.5 258.6a0.95 0.95 0 1 0 1.9 0a0.95 0.95 0 1 0 -1.9 0zM308.61 260.4a0.95 0.95 0 1 0 1.9 0a0.95 0.95 0 1 0 -1.9 0zM308.38 267.6a0.95 0.95 0 1 0 1.9 0a0.95 0.95 0 1 0 -1.9 0zM307.03 269.4a0.95 0.95 0 1 0 1.9 0a0.95 0.95 0 1 0 -1.9 0zM307.08 271.2a0.95 0.95 0 1 0 1.9 0a0.95 0.95 0 1 0 -1.9 0zM305.24 273a0.95 0.95 0 1 0 1.9 0a0.95 0.95 0 1 0 -1.9 0zM304.91 274.8a0.95 0.95 0 1 0 1.9 0a0.95 0.95 0 1 0 -1.9 0zM302.81 276.6a0.95 0.95 0 1 0 1.9 0a0.95 0.95 0 1 0 -1.9 0zM301.69 278.4a0.95 0.95 0 1 0 1.9 0a0.95 0.95 0 1 0 -1.9 0z"/>
<path d="M280.7 12.5V288.6" stroke="#111" stroke-width="1.5" fill="none"/>
<path d="M280 288.3H805.3" stroke="#111" stroke-width="1.5" fill="none"/>
<path d="M284.1 288.3v4.6M313.81 288.3v4.6M339.29 288.3v4.6M364.75 288.3v4.6M390.23 288.3v4.6M415.7 288.3v4.6M441.17 288.3v4.6M466.63 288.3v4.6M492.11 288.3v4.6M517.58 288.3v4.6M543.05 288.3v4.6M568.52 288.3v4.6M593.99 288.3v4.6M619.46 288.3v4.6M644.92 288.3v4.6M670.39 288.3v4.6M695.87 288.3v4.6M721.34 288.3v4.6M746.81 288.3v4.6M772.28 288.3v4.6M797.75 288.3v4.6" stroke="#111" stroke-width="1.25" fill="none"/>
<g font-size="6.9" text-anchor="middle" fill="#1a1a1a" stroke="#1a1a1a" stroke-width="0.15">
<text x="284.1" y="301.4">0</text>
<text x="313.81" y="301.4">7</text>
<text x="339.29" y="301.4">13</text>
<text x="364.75" y="301.4">19</text>
<text x="390.23" y="301.4">25</text>
<text x="415.7" y="301.4">31</text>
<text x="441.17" y="301.4">37</text>
<text x="466.63" y="301.4">43</text>
<text x="492.11" y="301.4">49</text>
<text x="517.58" y="301.4">55</text>
<text x="543.05" y="301.4">61</text>
<text x="568.52" y="301.4">67</text>
<text x="593.99" y="301.4">73</text>
<text x="619.46" y="301.4">79</text>
<text x="644.92" y="301.4">85</text>
<text x="670.39" y="301.4">91</text>
<text x="695.87" y="301.4">97</text>
<text x="721.34" y="301.4">103</text>
<text x="746.81" y="301.4">109</text>
<text x="772.28" y="301.4">115</text>
<text x="797.75" y="301.4">121</text>
</g>
<text x="476" y="314.5" font-size="9.8" textLength="138.3" fill="#1a1a1a" stroke="#1a1a1a" stroke-width="0.12">Weeks Since Start of Treatment</text>
<text x="254" y="17.3" font-size="20.2" font-weight="bold" fill="#000">A</text>
<rect x="736.2" y="139.1" width="5.8" height="5.5" fill="#8fcf8f"/>
<rect x="736.2" y="148.6" width="5.8" height="4.7" fill="#f5c596"/>
<path d="M735.9 157.2h6.3l-3.15 5.8z" fill="#b3201f"/>
<g font-size="7" fill="#111" stroke="#111" stroke-width="0.15"><text x="746.4" y="144.3">8.0 mg/kg</text><text x="746.4" y="153.6">10.0 mg/kg</text><text x="747" y="162.4">Dose reduction</text></g>
<rect x="698.6" y="229.8" width="103.7" height="55.3" fill="#fff" stroke="#8a8a8a" stroke-width="1"/>
<path d="M698.6 285.2H802.6" stroke="#222" stroke-width="0.9" fill="none"/><path d="M802.5 285V230.2" stroke="#666" stroke-width="0.8" fill="none"/>
<g font-size="7.1" fill="#111" stroke="#111" stroke-width="0.15"><text x="752" y="237" text-anchor="middle">Evaluation Results</text><text x="711.1" y="246.7">Complete Response (CR)</text><text x="711.3" y="256.2">Partial Response (PR)</text><text x="711.3" y="265.1">Stable Disease (SD)</text><text x="711.6" y="273.7">Progressive Disease (PD)</text><text x="711.1" y="282.7">Not Evaluable (NE)</text></g>
<path d="M704.2 241L705.17 243.17L707.53 243.42L705.77 245.01L706.26 247.33L704.2 246.15L702.14 247.33L702.63 245.01L700.87 243.42L703.23 243.17z" fill="#d62728"/>
<path d="M704.2 250.4l3 3.3l-3 3.3l-3-3.3z" fill="#8c3b3b"/>
<path d="M704.2 259.6l2.9 5.6h-5.8z" fill="#000"/>
<circle cx="704.2" cy="271.3" r="2.9" fill="#0a0ac8"/>
<rect x="701.5" y="277.6" width="5.5" height="5.5" fill="#1f7f1f"/>
<path fill="#7ccc7c" stroke="#aee9aa" stroke-width="0.75" d="M63.3 362.43h4.83v96.57h-4.83zM68.88 382.76h4.83v76.24h-4.83zM74.47 406.04h4.83v52.96h-4.83zM80.05 406.04h4.83v52.96h-4.83zM85.63 406.75h4.83v52.25h-4.83zM91.22 408.07h4.83v50.93h-4.83zM96.8 411.83h4.83v47.17h-4.83zM102.38 413.26h4.83v45.74h-4.83zM107.96 420.78h4.83v38.22h-4.83zM113.55 423.42h4.83v35.58h-4.83zM119.13 426.07h4.83v32.93h-4.83zM124.71 426.47h4.83v32.53h-4.83zM130.3 427.9h4.83v31.1h-4.83zM135.88 432.37h4.83v26.63h-4.83zM141.46 436.23h4.83v22.77h-4.83zM147.05 437.86h4.83v21.14h-4.83zM152.63 440.5h4.83v18.5h-4.83zM158.21 440.5h4.83v18.5h-4.83zM163.79 442.13h4.83v16.87h-4.83zM169.38 447.41h4.83v11.59h-4.83zM174.96 449.85h4.83v9.15h-4.83zM180.54 452.7h4.83v6.3h-4.83zM186.13 455.14h4.83v3.86h-4.83zM191.71 458.39h4.83v0.61h-4.83zM214.04 459h4.83v4.47h-4.83zM219.62 459h4.83v4.68h-4.83zM225.21 459h4.83v5.49h-4.83zM230.79 459h4.83v5.49h-4.83zM236.37 459h4.83v8.54h-4.83zM241.96 459h4.83v11.59h-4.83zM247.54 459h4.83v14.43h-4.83zM253.12 459h4.83v16.87h-4.83zM258.7 459h4.83v17.28h-4.83zM264.29 459h4.83v20.94h-4.83zM269.87 459h4.83v22.16h-4.83zM275.45 459h4.83v25.82h-4.83zM281.04 459h4.83v26.63h-4.83zM286.62 459h4.83v28.06h-4.83zM292.2 459h4.83v29.68h-4.83zM297.79 459h4.83v30.7h-4.83zM303.37 459h4.83v30.7h-4.83zM308.95 459h4.83v34.76h-4.83zM314.54 459h4.83v35.17h-4.83zM320.12 459h4.83v35.17h-4.83zM325.7 459h4.83v35.58h-4.83zM331.28 459h4.83v39.24h-4.83zM336.87 459h4.83v39.24h-4.83zM342.45 459h4.83v40.25h-4.83zM348.03 459h4.83v40.66h-4.83zM353.62 459h4.83v44.32h-4.83zM359.2 459h4.83v44.32h-4.83zM364.78 459h4.83v44.93h-4.83zM370.37 459h4.83v46.56h-4.83zM375.95 459h4.83v54.28h-4.83zM381.53 459h4.83v55.5h-4.83zM387.11 459h4.83v55.7h-4.83zM392.7 459h4.83v58.55h-4.83zM398.28 459h4.83v61.6h-4.83zM403.86 459h4.83v62.41h-4.83zM409.45 459h4.83v65.26h-4.83zM415.03 459h4.83v66.89h-4.83zM420.61 459h4.83v68.31h-4.83zM426.2 459h4.83v69.94h-4.83zM431.78 459h4.83v71.16h-4.83zM437.36 459h4.83v71.16h-4.83zM442.94 459h4.83v71.56h-4.83zM448.53 459h4.83v76.24h-4.83zM454.11 459h4.83v82.54h-4.83zM459.69 459h4.83v86.61h-4.83zM465.28 459h4.83v91.08h-4.83zM470.86 459h4.83v92.09h-4.83zM476.44 459h4.83v93.31h-4.83zM482.03 459h4.83v106.53h-4.83zM487.61 459h4.83v106.53h-4.83zM493.19 459h4.83v110.39h-4.83zM498.77 459h4.83v121.78h-4.83zM504.36 459h4.83v132.35h-4.83zM509.94 459h4.83v137.23h-4.83zM515.52 459h4.83v139.46h-4.83zM521.11 459h4.83v160.81h-4.83z"/>
<path d="M62.8 418.54H530" stroke="#9a9a9a" stroke-width="0.8" stroke-dasharray="3 2.2" fill="none" style="mix-blend-mode:multiply"/>
<path d="M62.8 519.69H530" stroke="#9a9a9a" stroke-width="0.8" stroke-dasharray="3 2.2" fill="none" style="mix-blend-mode:multiply"/>
<path d="M59 459H530" stroke="#141414" stroke-width="1.5" fill="none"/>
<path d="M59 352.4V637.3" stroke="#111" stroke-width="1.6" fill="none"/>
<path d="M59 357.85h-4.4M59 398.31h-4.4M59 438.77h-4.4M59 479.23h-4.4M59 519.69h-4.4M59 560.15h-4.4M59 600.61h-4.4M59 630.6h-4.4" stroke="#111" stroke-width="1.5" fill="none"/>
<g font-size="6.9" text-anchor="end" fill="#1a1a1a" stroke="#1a1a1a" stroke-width="0.15">
<text x="53.2" y="360.35">50</text>
<text x="53.2" y="400.81">30</text>
<text x="53.2" y="441.27">10</text>
<text x="53.2" y="481.73">-10</text>
<text x="53.2" y="522.19">-30</text>
<text x="53.2" y="562.65">-50</text>
<text x="53.2" y="603.11">-70</text>
<text x="52.7" y="633.1" font-size="7.3" textLength="24.7">H-score</text>
</g>
<text transform="translate(27.2 493.6) rotate(-90)" x="-117" font-size="9.8" textLength="234.2" fill="#1a1a1a" stroke="#1a1a1a" stroke-width="0.12">Best Change From Baseline in Target Lesion Size (%)</text>
<text x="0.6" y="353.1" font-size="20.6" font-weight="bold" fill="#000">B</text>
<path fill="#f6bf8e" d="M62.95 627.9h5.75v6h-5.75zM79.7 627.9h5.75v6h-5.75zM90.87 627.9h5.75v6h-5.75zM96.45 627.9h5.75v6h-5.75zM152.28 627.9h5.75v6h-5.75zM157.86 627.9h5.75v6h-5.75zM202.53 627.9h5.75v6h-5.75zM219.27 627.9h5.75v6h-5.75zM224.86 627.9h5.75v6h-5.75zM297.44 627.9h5.75v6h-5.75zM358.85 627.9h5.75v6h-5.75zM364.43 627.9h5.75v6h-5.75zM403.51 627.9h5.75v6h-5.75zM409.1 627.9h5.75v6h-5.75zM425.85 627.9h5.75v6h-5.75zM464.93 627.9h5.75v6h-5.75zM481.68 627.9h5.75v6h-5.75zM515.17 627.9h5.75v6h-5.75z"/>
<path fill="#8c8c8c" d="M68.53 627.9h5.75v6h-5.75zM107.61 627.9h5.75v6h-5.75zM113.2 627.9h5.75v6h-5.75zM129.95 627.9h5.75v6h-5.75zM163.44 627.9h5.75v6h-5.75zM174.61 627.9h5.75v6h-5.75zM180.19 627.9h5.75v6h-5.75zM191.36 627.9h5.75v6h-5.75zM236.02 627.9h5.75v6h-5.75zM258.35 627.9h5.75v6h-5.75zM263.94 627.9h5.75v6h-5.75zM314.19 627.9h5.75v6h-5.75zM330.93 627.9h5.75v6h-5.75zM347.68 627.9h5.75v6h-5.75zM370.01 627.9h5.75v6h-5.75zM397.93 627.9h5.75v6h-5.75zM420.26 627.9h5.75v6h-5.75zM442.59 627.9h5.75v6h-5.75zM487.26 627.9h5.75v6h-5.75z"/>
<path fill="#8bcb8b" d="M74.12 627.9h5.75v6h-5.75zM146.7 627.9h5.75v6h-5.75zM169.03 627.9h5.75v6h-5.75zM185.78 627.9h5.75v6h-5.75zM196.94 627.9h5.75v6h-5.75zM241.61 627.9h5.75v6h-5.75zM247.19 627.9h5.75v6h-5.75zM269.52 627.9h5.75v6h-5.75zM280.69 627.9h5.75v6h-5.75zM291.85 627.9h5.75v6h-5.75zM319.77 627.9h5.75v6h-5.75zM381.18 627.9h5.75v6h-5.75zM414.68 627.9h5.75v6h-5.75zM437.01 627.9h5.75v6h-5.75zM453.76 627.9h5.75v6h-5.75zM476.09 627.9h5.75v6h-5.75zM498.42 627.9h5.75v6h-5.75zM520.76 627.9h5.75v6h-5.75z"/>
<path fill="#e0161a" d="M85.28 627.9h5.75v6h-5.75zM102.03 627.9h5.75v6h-5.75zM118.78 627.9h5.75v6h-5.75zM135.53 627.9h5.75v6h-5.75zM141.11 627.9h5.75v6h-5.75zM208.11 627.9h5.75v6h-5.75zM213.69 627.9h5.75v6h-5.75zM230.44 627.9h5.75v6h-5.75zM252.77 627.9h5.75v6h-5.75zM275.1 627.9h5.75v6h-5.75zM286.27 627.9h5.75v6h-5.75zM303.02 627.9h5.75v6h-5.75zM308.6 627.9h5.75v6h-5.75zM325.35 627.9h5.75v6h-5.75zM375.6 627.9h5.75v6h-5.75zM386.76 627.9h5.75v6h-5.75zM392.35 627.9h5.75v6h-5.75zM431.43 627.9h5.75v6h-5.75zM448.18 627.9h5.75v6h-5.75zM459.34 627.9h5.75v6h-5.75zM504.01 627.9h5.75v6h-5.75zM509.59 627.9h5.75v6h-5.75z"/>
<rect x="60.9" y="645.7" width="4.9" height="4.9" fill="#8c8c8c"/>
<rect x="83.7" y="645.7" width="4.9" height="4.9" fill="#8bcb8b"/>
<rect x="124.3" y="645.7" width="4.9" height="4.9" fill="#f6bf8e"/>
<rect x="172.6" y="645.7" width="4.9" height="4.9" fill="#d41c22"/>
<g font-size="7.2" fill="#1a1a1a" stroke="#1a1a1a" stroke-width="0.15">
<text x="70.6" y="650.7" textLength="8.7">&lt;1</text>
<text x="93.5" y="650.7" textLength="26.3">≥1-&lt;50</text>
<text x="134" y="650.7" textLength="34.1">≥50-&lt;100</text>
<text x="182.4" y="650.7" textLength="17.1">≥100</text>
</g>
<rect x="481.5" y="357.7" width="5.3" height="5.1" fill="#7ccc7c"/>
<text x="489.1" y="363.1" font-size="7" fill="#111" stroke="#111" stroke-width="0.15">8.0 mg/kg</text>
<path fill="#f8bb82" stroke="#fcd8b2" stroke-width="1" d="M612.5 375.3h5.92v103.8h-5.92zM619.42 407.3h5.92v71.8h-5.92zM626.35 413.5h5.92v65.6h-5.92zM633.27 422.4h5.92v56.7h-5.92zM640.19 444.6h5.92v34.5h-5.92zM647.12 445.2h5.92v33.9h-5.92zM654.04 450.6h5.92v28.5h-5.92zM660.96 457.4h5.92v21.7h-5.92zM667.88 465h5.92v14.1h-5.92zM674.81 468.3h5.92v10.8h-5.92zM681.73 470.3h5.92v8.8h-5.92zM688.65 470.8h5.92v8.3h-5.92zM695.58 474.8h5.92v4.3h-5.92zM702.5 475.4h5.92v3.7h-5.92zM723.27 479.1h5.92v2.9h-5.92zM730.19 479.1h5.92v5.7h-5.92zM737.11 479.1h5.92v7.6h-5.92zM744.04 479.1h5.92v7.6h-5.92zM750.96 479.1h5.92v11.3h-5.92zM757.88 479.1h5.92v12.1h-5.92zM764.81 479.1h5.92v12.2h-5.92zM771.73 479.1h5.92v12.6h-5.92zM778.65 479.1h5.92v12.5h-5.92zM785.58 479.1h5.92v15.5h-5.92zM792.5 479.1h5.92v15.9h-5.92zM799.42 479.1h5.92v18.4h-5.92zM806.34 479.1h5.92v18.9h-5.92zM813.27 479.1h5.92v20.9h-5.92zM820.19 479.1h5.92v23.1h-5.92zM827.11 479.1h5.92v24h-5.92zM834.04 479.1h5.92v28.5h-5.92zM840.96 479.1h5.92v32.9h-5.92zM847.88 479.1h5.92v33.6h-5.92zM854.81 479.1h5.92v35.4h-5.92zM861.73 479.1h5.92v35.8h-5.92zM868.65 479.1h5.92v38.3h-5.92zM875.57 479.1h5.92v38.8h-5.92zM882.5 479.1h5.92v39.5h-5.92zM889.42 479.1h5.92v40.3h-5.92zM896.34 479.1h5.92v43.9h-5.92zM903.27 479.1h5.92v45.9h-5.92zM910.19 479.1h5.92v46.7h-5.92zM917.11 479.1h5.92v48.6h-5.92zM924.04 479.1h5.92v50.1h-5.92zM930.96 479.1h5.92v51.8h-5.92zM937.88 479.1h5.92v52.2h-5.92zM944.8 479.1h5.92v58.5h-5.92zM951.73 479.1h5.92v60.6h-5.92zM958.65 479.1h5.92v73.2h-5.92zM965.57 479.1h5.92v73.7h-5.92zM972.5 479.1h5.92v74.6h-5.92zM979.42 479.1h5.92v81.8h-5.92zM986.34 479.1h5.92v81.7h-5.92zM993.26 479.1h5.92v86.5h-5.92zM1000.19 479.1h5.92v87.8h-5.92zM1007.11 479.1h5.92v88.4h-5.92zM1014.03 479.1h5.92v90.5h-5.92zM1020.96 479.1h5.92v104.9h-5.92zM1027.88 479.1h5.92v110.2h-5.92zM1034.8 479.1h5.92v110h-5.92zM1041.73 479.1h5.92v113.2h-5.92zM1048.65 479.1h5.92v118.6h-5.92zM1055.57 479.1h5.92v130.2h-5.92zM1062.49 479.1h5.92v135h-5.92zM1069.42 479.1h5.92v139.7h-5.92z"/>
<path d="M612 438.64H1079" stroke="#9a9a9a" stroke-width="0.8" stroke-dasharray="3 2.2" fill="none" style="mix-blend-mode:multiply"/>
<path d="M612 539.79H1079" stroke="#9a9a9a" stroke-width="0.8" stroke-dasharray="3 2.2" fill="none" style="mix-blend-mode:multiply"/>
<path d="M608.5 479.1H1079" stroke="#141414" stroke-width="1.5" fill="none"/>
<path d="M608.5 352.4V637.3" stroke="#111" stroke-width="1.6" fill="none"/>
<path d="M608.5 357.72h-4.4M608.5 398.18h-4.4M608.5 438.64h-4.4M608.5 479.1h-4.4M608.5 519.56h-4.4M608.5 560.02h-4.4M608.5 600.48h-4.4M608.5 630.6h-4.4" stroke="#111" stroke-width="1.5" fill="none"/>
<g font-size="6.9" text-anchor="end" fill="#1a1a1a" stroke="#1a1a1a" stroke-width="0.15">
<text x="602.7" y="360.22">60</text>
<text x="602.7" y="400.68">40</text>
<text x="602.7" y="441.14">20</text>
<text x="602.7" y="481.6">0</text>
<text x="602.7" y="522.06">-20</text>
<text x="602.7" y="562.52">-40</text>
<text x="602.7" y="602.98">-60</text>
<text x="602.2" y="633.1" font-size="7.3" textLength="24.7">H-score</text>
</g>
<text transform="translate(574.3 494.9) rotate(-90)" x="-117" font-size="9.8" textLength="234.2" fill="#1a1a1a" stroke="#1a1a1a" stroke-width="0.12">Best Change From Baseline in Target Lesion Size (%)</text>
<text x="557.4" y="354.4" font-size="21.4" font-weight="bold" fill="#000">C</text>
<path fill="#e0161a" d="M612.75 627.9h5.75v6h-5.75zM688.9 627.9h5.75v6h-5.75zM695.83 627.9h5.75v6h-5.75zM778.9 627.9h5.75v6h-5.75zM813.52 627.9h5.75v6h-5.75zM827.36 627.9h5.75v6h-5.75zM834.29 627.9h5.75v6h-5.75zM841.21 627.9h5.75v6h-5.75zM924.29 627.9h5.75v6h-5.75zM945.05 627.9h5.75v6h-5.75zM979.67 627.9h5.75v6h-5.75zM986.59 627.9h5.75v6h-5.75zM993.51 627.9h5.75v6h-5.75zM1000.44 627.9h5.75v6h-5.75zM1007.36 627.9h5.75v6h-5.75zM1041.98 627.9h5.75v6h-5.75z"/>
<path fill="#f6bf8e" d="M626.6 627.9h5.75v6h-5.75zM640.44 627.9h5.75v6h-5.75zM681.98 627.9h5.75v6h-5.75zM889.67 627.9h5.75v6h-5.75zM958.9 627.9h5.75v6h-5.75zM1021.21 627.9h5.75v6h-5.75z"/>
<path fill="#8bcb8b" d="M633.52 627.9h5.75v6h-5.75zM647.37 627.9h5.75v6h-5.75zM654.29 627.9h5.75v6h-5.75zM675.06 627.9h5.75v6h-5.75zM709.67 627.9h5.75v6h-5.75zM737.36 627.9h5.75v6h-5.75zM765.06 627.9h5.75v6h-5.75zM771.98 627.9h5.75v6h-5.75zM785.83 627.9h5.75v6h-5.75zM792.75 627.9h5.75v6h-5.75zM799.67 627.9h5.75v6h-5.75zM848.13 627.9h5.75v6h-5.75zM855.06 627.9h5.75v6h-5.75zM861.98 627.9h5.75v6h-5.75zM868.9 627.9h5.75v6h-5.75zM875.82 627.9h5.75v6h-5.75zM896.59 627.9h5.75v6h-5.75zM903.52 627.9h5.75v6h-5.75zM910.44 627.9h5.75v6h-5.75zM917.36 627.9h5.75v6h-5.75zM965.82 627.9h5.75v6h-5.75zM1055.82 627.9h5.75v6h-5.75zM1062.74 627.9h5.75v6h-5.75z"/>
<path fill="#8c8c8c" d="M661.21 627.9h5.75v6h-5.75zM702.75 627.9h5.75v6h-5.75zM716.6 627.9h5.75v6h-5.75zM723.52 627.9h5.75v6h-5.75zM730.44 627.9h5.75v6h-5.75zM744.29 627.9h5.75v6h-5.75zM751.21 627.9h5.75v6h-5.75zM806.59 627.9h5.75v6h-5.75zM820.44 627.9h5.75v6h-5.75zM882.75 627.9h5.75v6h-5.75zM931.21 627.9h5.75v6h-5.75zM951.98 627.9h5.75v6h-5.75zM1028.13 627.9h5.75v6h-5.75zM1035.05 627.9h5.75v6h-5.75zM1048.9 627.9h5.75v6h-5.75zM1069.67 627.9h5.75v6h-5.75z"/>
<rect x="610.1" y="645.7" width="4.9" height="4.9" fill="#8c8c8c"/>
<rect x="632.9" y="645.7" width="4.9" height="4.9" fill="#8bcb8b"/>
<rect x="673.5" y="645.7" width="4.9" height="4.9" fill="#f6bf8e"/>
<rect x="721.8" y="645.7" width="4.9" height="4.9" fill="#d41c22"/>
<g font-size="7.2" fill="#1a1a1a" stroke="#1a1a1a" stroke-width="0.15">
<text x="619.8" y="650.7" textLength="8.7">&lt;1</text>
<text x="642.7" y="650.7" textLength="26.3">≥1-&lt;50</text>
<text x="683.2" y="650.7" textLength="34.1">≥50-&lt;100</text>
<text x="731.6" y="650.7" textLength="17.1">≥100</text>
</g>
<rect x="1026.7" y="357.7" width="5.3" height="5.1" fill="#f5c28c"/>
<text x="1034.3" y="363.1" font-size="7" fill="#111" stroke="#111" stroke-width="0.15">10.0 mg/kg</text>
</svg>
</body></html>
